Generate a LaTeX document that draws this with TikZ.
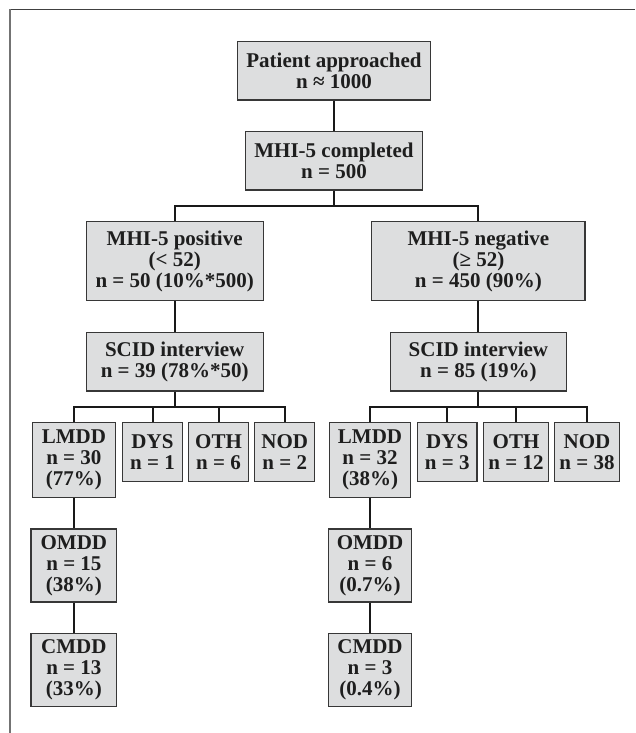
\documentclass[tikz,border=0pt]{standalone}
\usepackage{fontspec}
\setmainfont{Liberation Serif}
\definecolor{boxfill}{RGB}{221,222,223}
\definecolor{boxline}{RGB}{55,55,55}
\definecolor{txt}{RGB}{30,30,30}
\begin{document}
\begin{tikzpicture}[x=1pt,y=-1pt,
  fbox/.style={draw=boxline,line width=1.3pt,fill=boxfill,inner sep=0pt,align=center,
    text=txt,font=\fontsize{21}{21}\selectfont\bfseries},
  conn/.style={draw=black!90,line width=2pt}]
\useasboundingbox (0,0) rectangle (635,733);
% frame
\draw[draw=black!75,line width=1.3pt] (10.3,9.3) -- (635,9.3);
\draw[draw=black!55,line width=2pt] (10.3,9.3) -- (10.3,733);
% level nodes
\node[fbox,minimum width=192.7,minimum height=58.3] (pat) at (334,70.9) {Patient approached\\n ≈ 1000};
\node[fbox,minimum width=176.5,minimum height=58.3] (comp) at (334,160.9) {MHI-5 completed\\n = 500};
\node[fbox,minimum width=177,minimum height=79] (pos) at (174.7,261.2) {MHI-5 positive\\(< 52)\\n = 50 (10\%*500)};
\node[fbox,minimum width=213.3,minimum height=79] (neg) at (478.4,261.2) {MHI-5 negative\\(≥ 52)\\n = 450 (90\%)};
\node[fbox,minimum width=177,minimum height=58.3] (scidL) at (174.7,361.9) {SCID interview\\n = 39 (78\%*50)};
\node[fbox,minimum width=176.5,minimum height=58.3] (scidR) at (478.4,361.9) {SCID interview\\n = 85 (19\%)};
% left row
\node[fbox,minimum width=83,minimum height=75] (lmddL) at (73.9,460.2) {LMDD\\n = 30\\(77\%)};
\node[fbox,minimum width=59.5,minimum height=59] (dysL) at (152.5,452.2) {DYS\\n = 1};
\node[fbox,minimum width=59.5,minimum height=59] (othL) at (218.5,452.2) {OTH\\n = 6};
\node[fbox,minimum width=60,minimum height=59] (nodL) at (284.7,452.2) {NOD\\n = 2};
\node[fbox,minimum width=85.8,minimum height=73] (omddL) at (73.9,565.4) {OMDD\\n = 15\\(38\%)};
\node[fbox,minimum width=85.8,minimum height=73] (cmddL) at (73.9,669.7) {CMDD\\n = 13\\(33\%)};
% right row
\node[fbox,minimum width=81,minimum height=75] (lmddR) at (370,460.2) {LMDD\\n = 32\\(38\%)};
\node[fbox,minimum width=59.5,minimum height=59] (dysR) at (447.2,452.2) {DYS\\n = 3};
\node[fbox,minimum width=65.2,minimum height=59] (othR) at (516,452.2) {OTH\\n = 12};
\node[fbox,minimum width=64.7,minimum height=59] (nodR) at (587,452.2) {NOD\\n = 38};
\node[fbox,minimum width=83.3,minimum height=73] (omddR) at (370,565.4) {OMDD\\n = 6\\(0.7\%)};
\node[fbox,minimum width=83.3,minimum height=73] (cmddR) at (370,669.7) {CMDD\\n = 3\\(0.4\%)};
% junctions
\coordinate (j1) at (334,206);
\coordinate (j2) at (174.7,407);
\coordinate (j3) at (478.4,407);
% connectors
\draw[conn] (pat.south) -- (comp.north);
\draw[conn] (comp.south) -- (j1);
\draw[conn] (pos.north) |- (j1) -| (neg.north);
\draw[conn] (pos.south) -- (scidL.north);
\draw[conn] (neg.south) -- (scidR.north);
\draw[conn] (scidL.south) -- (j2);
\draw[conn] (lmddL.north) |- (j2) -| (nodL.north);
\draw[conn] (dysL.north) -- (dysL.north |- j2);
\draw[conn] (othL.north) -- (othL.north |- j2);
\draw[conn] (scidR.south) -- (j3);
\draw[conn] (lmddR.north) |- (j3) -| (nodR.north);
\draw[conn] (dysR.north) -- (dysR.north |- j3);
\draw[conn] (othR.north) -- (othR.north |- j3);
\draw[conn] (lmddL.south) -- (omddL.north);
\draw[conn] (omddL.south) -- (cmddL.north);
\draw[conn] (lmddR.south) -- (omddR.north);
\draw[conn] (omddR.south) -- (cmddR.north);
\end{tikzpicture}
\end{document}
